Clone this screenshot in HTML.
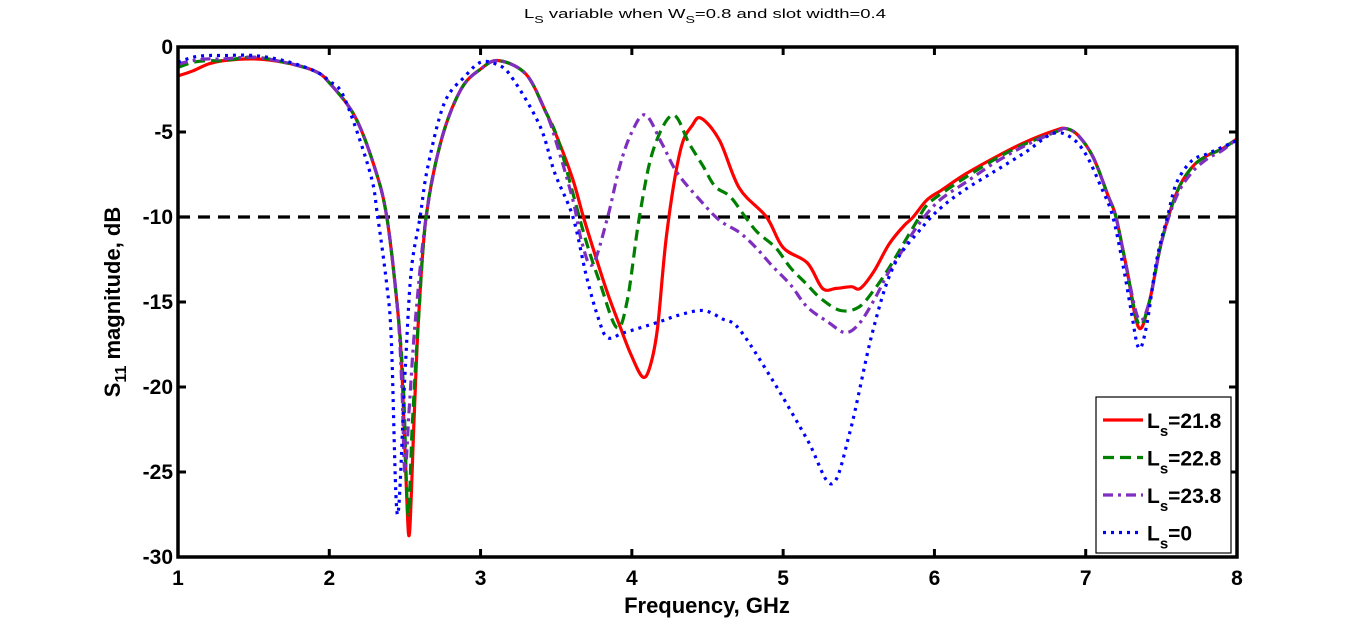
<!DOCTYPE html>
<html><head><meta charset="utf-8"><style>
body{margin:0;background:#fff;}
svg{display:block;font-family:"Liberation Sans",Arial,sans-serif;}
</style></head><body>
<svg id="chart" width="1366" height="628" viewBox="0 0 1366 628" xmlns="http://www.w3.org/2000/svg">
<text x="705" y="18" font-size="13" text-anchor="middle" textLength="362" lengthAdjust="spacingAndGlyphs">L<tspan font-size="10" dy="5">S</tspan><tspan dy="-5"> variable when W</tspan><tspan font-size="10" dy="5">S</tspan><tspan dy="-5">=0.8 and slot width=0.4</tspan></text>
<g id="grid"></g>
<g id="series"></g>
<g id="axes"></g>
<text x="707" y="613" font-size="22" font-weight="bold" text-anchor="middle">Frequency, GHz</text>
<text transform="translate(120,302) rotate(-90)" font-size="22" font-weight="bold" text-anchor="middle">S<tspan font-size="16" dy="6">11</tspan><tspan dy="-6"> magnitude, dB</tspan></text>
<g id="legend"></g>
</svg>
<script>
const xTicks=[1,2,3,4,5,6,7,8];
const yTicks=[0,-5,-10,-15,-20,-25,-30];
const threshold=-10;
const names=["L_s=21.8","L_s=22.8","L_s=23.8","L_s=0"];
const redF=[1.0,1.1,1.2,1.3,1.5,1.7,1.9,2.0,2.17,2.3,2.38,2.45,2.48,2.51,2.53,2.56,2.59,2.64,2.74,2.87,3.0,3.12,3.3,3.43,3.51,3.61,3.68,3.76,3.84,3.92,3.99,4.07,4.12,4.17,4.23,4.32,4.4,4.46,4.58,4.71,4.89,5.0,5.16,5.26,5.35,5.45,5.51,5.6,5.7,5.8,5.86,5.95,6.05,6.2,6.4,6.6,6.8,6.87,6.95,7.05,7.15,7.2,7.27,7.35,7.42,7.5,7.6,7.7,7.8,7.9,8.0];
const redV=[-1.7,-1.4,-1.0,-0.8,-0.7,-0.9,-1.4,-2.1,-4.1,-7.1,-10,-15.3,-19,-26,-28.6,-22,-16,-10,-5.5,-2.5,-1.3,-0.8,-1.6,-3.8,-5.4,-7.8,-10,-12.3,-14.5,-16.4,-18,-19.4,-18.8,-16.5,-11,-6.1,-4.6,-4.2,-5.5,-8.3,-10,-11.8,-12.7,-14.2,-14.2,-14.1,-14.2,-13.2,-11.6,-10.5,-10,-9.0,-8.4,-7.5,-6.5,-5.6,-4.9,-4.8,-5.2,-6.5,-8.8,-10,-13,-16.5,-15,-11.5,-8.6,-7.1,-6.4,-6.0,-5.4];
const greenF=[1.0,1.1,1.2,1.3,1.5,1.7,1.9,2.0,2.17,2.3,2.38,2.45,2.49,2.52,2.55,2.59,2.64,2.74,2.87,3.0,3.12,3.3,3.43,3.51,3.61,3.7,3.79,3.9,3.97,4.05,4.14,4.27,4.38,4.47,4.55,4.65,4.75,4.83,4.95,5.05,5.15,5.25,5.38,5.5,5.6,5.7,5.8,5.88,5.95,6.05,6.2,6.4,6.6,6.8,6.87,6.95,7.05,7.15,7.2,7.27,7.35,7.42,7.5,7.6,7.7,7.8,7.9,8.0];
const greenV=[-1.2,-0.9,-0.8,-0.8,-0.6,-0.9,-1.4,-2.1,-4.1,-7.1,-10,-15.3,-20,-27.5,-22,-16,-10,-5.5,-2.5,-1.3,-0.8,-1.6,-3.8,-5.4,-8.6,-11.5,-13.9,-16.5,-14.9,-10,-6.1,-4.0,-5.7,-7.0,-8.2,-8.8,-10,-10.9,-11.8,-13,-13.9,-14.8,-15.5,-15.3,-14.3,-13,-11.5,-10.3,-9.3,-8.6,-7.7,-6.6,-5.7,-5.0,-4.8,-5.2,-6.5,-8.8,-10,-13,-16.3,-15,-11.5,-8.6,-7.1,-6.4,-6.0,-5.4];
const purpleF=[1.0,1.1,1.2,1.3,1.5,1.7,1.9,2.0,2.17,2.3,2.38,2.45,2.48,2.5,2.53,2.57,2.64,2.74,2.87,3.0,3.12,3.3,3.43,3.5,3.61,3.67,3.74,3.84,3.92,4.0,4.09,4.2,4.3,4.45,4.58,4.71,4.82,4.93,5.05,5.16,5.3,5.41,5.5,5.6,5.7,5.8,5.86,5.95,6.05,6.2,6.4,6.6,6.8,6.87,6.95,7.05,7.15,7.2,7.27,7.35,7.42,7.5,7.6,7.7,7.8,7.9,8.0];
const purpleV=[-1.0,-0.8,-0.7,-0.7,-0.6,-0.9,-1.4,-2.1,-4.1,-7.1,-10,-15.3,-20,-25,-21,-16,-10,-5.5,-2.5,-1.3,-0.8,-1.6,-3.8,-5.6,-9,-11.5,-12.8,-10,-7,-5.0,-4.0,-5.7,-7.4,-9,-10.2,-10.9,-11.8,-12.9,-14,-15.3,-16.2,-16.8,-16.3,-14.9,-13.2,-11.8,-10.9,-9.8,-8.9,-8.0,-6.8,-5.8,-5.0,-4.8,-5.2,-6.5,-8.8,-10,-13,-16,-15,-11.5,-8.8,-7.4,-6.6,-6.1,-5.4];
const blueF=[1.0,1.1,1.2,1.3,1.5,1.7,1.9,2.0,2.1,2.27,2.32,2.38,2.41,2.45,2.5,2.54,2.6,2.65,2.76,2.9,3.0,3.1,3.2,3.39,3.49,3.61,3.7,3.78,3.84,3.95,4.17,4.3,4.47,4.6,4.71,4.93,5.16,5.32,5.44,5.59,5.73,5.92,6.05,6.2,6.4,6.6,6.78,6.9,7.0,7.1,7.18,7.25,7.3,7.35,7.4,7.47,7.54,7.6,7.7,7.8,7.9,8.0];
const blueV=[-0.9,-0.6,-0.5,-0.5,-0.5,-0.8,-1.4,-2.0,-3.0,-7.4,-10,-14,-17.2,-27.5,-19.3,-13.3,-10,-7.1,-3.3,-1.7,-0.9,-1.0,-1.7,-4.6,-7.4,-10,-13.5,-16,-17.1,-16.8,-16.2,-15.8,-15.5,-16,-16.6,-19.6,-23.1,-25.7,-22.7,-16.8,-12.9,-10.6,-9.4,-8.4,-7.3,-6.2,-5.1,-5.3,-6.3,-8.2,-10,-13,-15.5,-17.7,-16.5,-12.5,-10,-8,-6.7,-6.3,-5.9,-5.5];
const seriesF=[redF,greenF,purpleF,blueF];
const seriesV=[redV,greenV,purpleV,blueV];
const colors=["#ff0000","#008000","#7f2fbf","#0000ff"];
const dashes=["","11,6","10,5,3,5","3,5"];
const seriesNames=["series-ls-21-8","series-ls-22-8","series-ls-23-8","series-ls-0"];

const X0=178,X1=1237,Y0=47,Y1=557;
const xs=f=>X0+(f-1)/7*(X1-X0);
const ys=v=>Y0+(0-v)/30*(Y1-Y0);
const NS="http://www.w3.org/2000/svg";
function mk(tag,attrs,parent){const e=document.createElementNS(NS,tag);for(const k in attrs)e.setAttribute(k,attrs[k]);parent.appendChild(e);return e;}
const gS=document.getElementById('series'),gA=document.getElementById('axes'),gG=document.getElementById('grid'),gL=document.getElementById('legend');

function smooth(pts){
  let d="M"+pts[0][0].toFixed(1)+","+pts[0][1].toFixed(1);
  for(let i=0;i<pts.length-1;i++){
    const p0=pts[Math.max(0,i-1)],p1=pts[i],p2=pts[i+1],p3=pts[Math.min(pts.length-1,i+2)];
    const c1=[p1[0]+(p2[0]-p0[0])/6,p1[1]+(p2[1]-p0[1])/6];
    const c2=[p2[0]-(p3[0]-p1[0])/6,p2[1]-(p3[1]-p1[1])/6];
    d+="C"+c1[0].toFixed(1)+","+c1[1].toFixed(1)+" "+c2[0].toFixed(1)+","+c2[1].toFixed(1)+" "+p2[0].toFixed(1)+","+p2[1].toFixed(1);
  }
  return d;
}

const th=mk('line',{x1:X0,x2:X1,y1:ys(threshold),y2:ys(threshold),stroke:'#000','stroke-width':3.2,'stroke-dasharray':'12,8'},gG);



for(let s=0;s<4;s++){
  const pts=seriesF[s].map((f,i)=>[xs(f),ys(seriesV[s][i])]);
  const p=mk('path',{d:smooth(pts),fill:'none',stroke:colors[s],'stroke-width':3.2,'stroke-linejoin':'round'},gS);
  if(dashes[s])p.setAttribute('stroke-dasharray',dashes[s]);
  
  
}

const box=mk('rect',{x:X0,y:Y0,width:X1-X0,height:Y1-Y0,fill:'none',stroke:'#000','stroke-width':3.5},gA);


for(const t of xTicks){
  const x=xs(t);
  mk('line',{x1:x,x2:x,y1:Y1,y2:Y1-8,stroke:'#000','stroke-width':3},gA);
  mk('line',{x1:x,x2:x,y1:Y0,y2:Y0+8,stroke:'#000','stroke-width':3},gA);
  const tx=mk('text',{x:x,y:Y1+28,'font-size':21,'font-weight':'bold','text-anchor':'middle'},gA);
  tx.textContent=t;
  
  
}
for(const t of yTicks){
  const y=ys(t);
  mk('line',{x1:X0,x2:X0+8,y1:y,y2:y,stroke:'#000','stroke-width':3},gA);
  mk('line',{x1:X1,x2:X1-8,y1:y,y2:y,stroke:'#000','stroke-width':3},gA);
  const tx=mk('text',{x:X0-5,y:y+7,'font-size':21,'font-weight':'bold','text-anchor':'end'},gA);
  tx.textContent=t;
  
  
}

const lb=mk('rect',{x:1096,y:397,width:135,height:156,fill:'#fff',stroke:'#000','stroke-width':1.2},gL);


for(let s=0;s<4;s++){
  const y=420+s*37.5;
  const g=mk('g',{},gL);
  
  
  const l=mk('line',{x1:1103,x2:1143,y1:y,y2:y,stroke:colors[s],'stroke-width':3.2},g);
  if(dashes[s])l.setAttribute('stroke-dasharray',dashes[s]);
  const t=mk('text',{x:1147,y:y+8,'font-size':21,'font-weight':'bold'},g);
  const parts=names[s].split('=');
  t.innerHTML='L<tspan font-size="15" dy="8">s</tspan><tspan dy="-8">='+parts[1]+'</tspan>';
}
</script>
</body></html>
